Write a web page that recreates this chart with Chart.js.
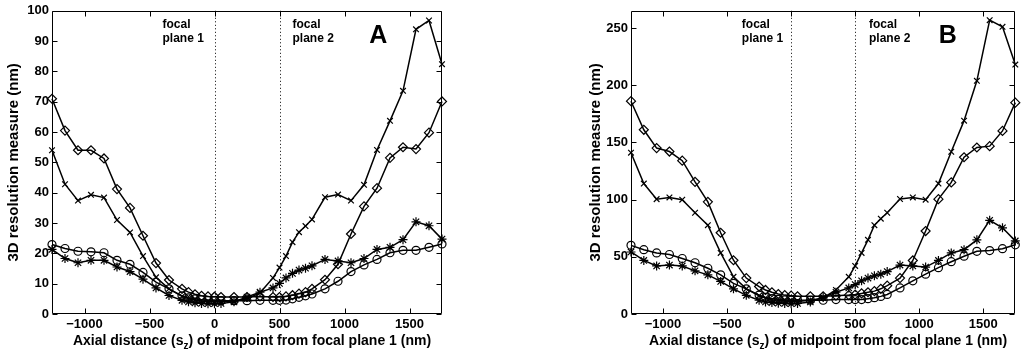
<!DOCTYPE html>
<html>
<head>
<meta charset="utf-8">
<script src="https://cdn.jsdelivr.net/npm/chart.js@4.4.1/dist/chart.umd.min.js"></script>
<style>
  html, body { margin: 0; padding: 0; background: #fff; }
  #wrap { position: relative; width: 1021px; height: 353px; overflow: hidden; }
  canvas { position: absolute; top: 0; }
  #chartA { left: 0; }
  #chartB { left: 510px; }
</style>
</head>
<body>
<div id="wrap">
  <canvas id="chartA" width="470" height="353"></canvas>
  <canvas id="chartB" width="511" height="353"></canvas>
</div>
<script>
// axial positions of the midpoint (nm)
var axialPositions = [-1250, -1150, -1050, -950, -850, -750, -650, -550, -450, -350,
  -250, -200, -150, -100, -50, 0, 50, 150, 250, 350, 450, 500, 550, 600, 650, 700, 750,
  850, 950, 1050, 1150, 1250, 1350, 1450, 1550, 1650, 1750];

// panel A
var diamondA = [71, 60.5, 54, 54, 51.3, 41.2, 35, 25.8, 16.8, 11.2, 8.3, 7.2, 6.5, 6, 5.8, 5.7, 5.6,
  5.6, 5.6, 5.8, 5.6, 5.6, 5.8, 6.2, 6.7, 7.2, 8.3, 11.3, 16.4, 26.4, 35.5, 41.5, 51.5, 55, 54.4, 59.8, 70.1];
var crossA = [54, 42.8, 37.4, 39.3, 38.4, 31, 26.9, 19.1, 12.1, 8.3, 5.8, 5, 4.6, 4.3, 4.1, 4, 4,
  4.3, 5, 7, 11.9, 15.3, 19.1, 23.7, 27, 29, 31.2, 38.5, 39.4, 37.4, 42.6, 54.1, 63.7, 73.6, 93.9, 96.8, 82.4];
var circleA = [22.9, 21.6, 20.7, 20.5, 20.2, 17.7, 16.4, 13.7, 10.5, 8.3, 6, 5.3, 5, 4.7, 4.5, 4.4, 4.4,
  4.4, 4.4, 4.5, 4.5, 4.5, 4.6, 5, 5.5, 6, 6.6, 8.3, 10.8, 14, 16.2, 18, 20.2, 21, 21, 22, 23.1];
var starA = [21.3, 18.3, 16.9, 17.7, 17.7, 15.5, 14, 11.5, 8.6, 6.1, 4.5, 4, 3.7, 3.5, 3.4, 3.4, 3.5,
  4, 5.6, 7.2, 8.6, 10.1, 11.9, 13.4, 14.5, 15.1, 15.9, 18, 17.5, 16.9, 18.3, 21.3, 22, 24.5, 30.4, 29.1, 24.7];

// panel B
var diamondB = [186, 161, 145, 142, 134, 115.5, 98, 71, 47, 31.4, 24, 21, 19, 17.5, 16.5, 16, 15.5,
  15.5, 15.5, 16, 16.5, 17, 18, 19, 20, 22, 24.8, 31.4, 46.8, 72.5, 100.4, 115, 137, 145.5, 146.7, 160, 184.7];
var crossB = [141, 114, 100.4, 101.9, 99.9, 88.5, 77.6, 53.4, 32.5, 22, 16, 14, 12.5, 12, 11.5, 11, 11,
  12, 14, 21, 32.5, 42, 53.4, 64.8, 77.6, 83.3, 88.5, 100.5, 101.9, 99.9, 114, 141.8, 169, 203.8, 256.8, 251, 218];
var circleB = [60, 56.2, 53.4, 52, 48.5, 44.8, 40, 34.2, 26.8, 22, 16.5, 14.5, 13.5, 12.8, 12.3, 12, 12,
  12, 12, 12.6, 12.6, 12.6, 12.6, 13.4, 14.3, 15.4, 17.1, 22.8, 29, 34.8, 40.5, 45.7, 50.5, 54.8, 55.4, 57.1, 60.5];
var starB = [54.2, 46.8, 42, 42.8, 42, 37.7, 34.2, 28.5, 22, 16.3, 12, 10.5, 10, 9.5, 9.2, 9, 9.2,
  10.5, 14.5, 19, 22.8, 25.7, 29, 31.4, 33.4, 34.8, 37.1, 42.8, 42, 41, 46.8, 53.4, 56.2, 64.8, 81.9, 75.3, 63.9];

// ticks
var xTickValues = [-1000, -500, 0, 500, 1000, 1500];
var yTickValuesA = [0, 10, 20, 30, 40, 50, 60, 70, 80, 90, 100];
var yTickValuesB = [0, 50, 100, 150, 200, 250];
var focalPlanes = [0, 500];

var FONT = '"Liberation Sans", Arial, Helvetica, sans-serif';

function toPoints(values) {
  return values.map(function(v, i) { return { x: axialPositions[i], y: v }; });
}

function series(values, style, radius) {
  return {
    data: toPoints(values),
    borderColor: '#000',
    borderWidth: 1.5,
    pointStyle: style,
    pointRadius: radius,
    pointBorderWidth: 1.2,
    pointBorderColor: '#000',
    pointBackgroundColor: 'rgba(0,0,0,0)',
    tension: 0,
    clip: false
  };
}

// dotted focal plane lines, box with inward ticks, labels
var panelDecor = {
  id: 'panelDecor',
  beforeDatasetsDraw: function(chart) {
    var ctx = chart.ctx, a = chart.chartArea, xs = chart.scales.x;
    ctx.save();
    ctx.strokeStyle = '#000';
    ctx.lineWidth = 1;
    ctx.setLineDash([1, 2.5]);
    focalPlanes.forEach(function(v) {
      var px = Math.round(xs.getPixelForValue(v)) + 0.5;
      ctx.beginPath();
      ctx.moveTo(px, a.top);
      ctx.lineTo(px, a.bottom);
      ctx.stroke();
    });
    ctx.restore();
  },
  afterDraw: function(chart) {
    var ctx = chart.ctx, a = chart.chartArea, xs = chart.scales.x, ys = chart.scales.y;
    var o = chart.options.plugins.panelDecor;
    var L = Math.round(a.left) + 0.5, R = Math.round(a.right) - 0.5;
    var T = Math.round(a.top) + 0.5, B = Math.round(a.bottom) - 0.5;
    ctx.save();
    ctx.strokeStyle = '#000';
    ctx.lineWidth = 1;
    ctx.beginPath();
    ctx.rect(L, T, R - L, B - T);
    xs.ticks.forEach(function(t) {
      var px = Math.round(xs.getPixelForValue(t.value)) + 0.5;
      ctx.moveTo(px, B); ctx.lineTo(px, B - 5);
      ctx.moveTo(px, T); ctx.lineTo(px, T + 5);
    });
    ys.ticks.forEach(function(t) {
      var py = Math.round(ys.getPixelForValue(t.value)) + 0.5;
      ctx.moveTo(L, py); ctx.lineTo(L + 5, py);
      ctx.moveTo(R, py); ctx.lineTo(R - 5, py);
    });
    ctx.stroke();

    // focal plane labels
    ctx.fillStyle = '#000';
    ctx.textAlign = 'left';
    ctx.textBaseline = 'alphabetic';
    ctx.font = 'bold 12px ' + FONT;
    o.planeLabelX.forEach(function(v, i) {
      var px = xs.getPixelForValue(v);
      ctx.fillText('focal', px, 28);
      ctx.fillText('plane ' + (i + 1), px, 42);
    });

    // panel letter
    ctx.font = 'bold 25px ' + FONT;
    ctx.textAlign = 'center';
    ctx.fillText(o.letter, xs.getPixelForValue(o.letterX), 43);

    // x axis title with subscript
    var parts = [
      { t: 'Axial distance (s', f: 'bold 14px ' + FONT, dy: 0 },
      { t: 'z', f: 'bold 10px ' + FONT, dy: 4 },
      { t: ') of midpoint from focal plane 1 (nm)', f: 'bold 14px ' + FONT, dy: 0 }
    ];
    var total = 0;
    parts.forEach(function(p) { ctx.font = p.f; p.w = ctx.measureText(p.t).width; total += p.w; });
    var x = (a.left + a.right) / 2 + 5 - total / 2;
    ctx.textAlign = 'left';
    parts.forEach(function(p) {
      ctx.font = p.f;
      ctx.fillText(p.t, x, 345 + p.dy);
      x += p.w;
    });
    ctx.restore();
  }
};

function makePanel(canvasId, sets, yMax, yTicks, yAxisWidth, titlePad, rightPad, deco) {
  var tickFont = { family: FONT, size: 13, weight: 'bold' };
  return new Chart(document.getElementById(canvasId), {
    type: 'line',
    data: {
      datasets: [
        series(sets[0], 'rectRot', 4.5),
        series(sets[1], 'crossRot', 4),
        series(sets[2], 'circle', 4),
        series(sets[3], 'star', 4.5)
      ]
    },
    options: {
      responsive: false,
      animation: false,
      devicePixelRatio: 1,
      events: [],
      layout: { padding: { left: 0, right: rightPad, top: 5, bottom: 0 } },
      plugins: {
        legend: { display: false },
        tooltip: { enabled: false },
        panelDecor: deco
      },
      scales: {
        x: {
          type: 'linear',
          min: -1250,
          max: 1750,
          grid: { display: false, drawTicks: false },
          border: { display: false },
          afterBuildTicks: function(scale) {
            scale.ticks = xTickValues.map(function(v) { return { value: v }; });
          },
          afterFit: function(scale) { scale.height = 39; },
          ticks: {
            color: '#000',
            font: tickFont,
            padding: 3,
            maxRotation: 0,
            callback: function(v) { return String(v).replace('-', '\u2212'); }
          }
        },
        y: {
          type: 'linear',
          min: 0,
          max: yMax,
          grid: { display: false, drawTicks: false },
          border: { display: false },
          afterBuildTicks: function(scale) {
            scale.ticks = yTicks.map(function(v) { return { value: v }; });
          },
          afterFit: function(scale) { scale.width = yAxisWidth; },
          ticks: {
            color: '#000',
            font: tickFont,
            padding: 3,
            callback: function(v) { return String(v); }
          },
          title: {
            display: true,
            text: '3D resolution measure (nm)',
            color: '#000',
            font: { family: FONT, size: 15, weight: 'bold' },
            padding: { top: 5, bottom: 0 }
          }
        }
      }
    },
    plugins: [panelDecor]
  });
}

makePanel('chartA', [diamondA, crossA, circleA, starA], 100, yTickValuesA, 52, 5, 28,
  { letter: 'A', letterX: 1260, planeLabelX: [-400, 600] });
var chartB = makePanel('chartB', [diamondB, crossB, circleB, starB], 265, yTickValuesB, 121, 5, 1,
  { letter: 'B', letterX: 1222, planeLabelX: [-385, 608] });
chartB.options.scales.y.title.padding = { top: 77, bottom: 0 };
chartB.update();
</script>
</body>
</html>
